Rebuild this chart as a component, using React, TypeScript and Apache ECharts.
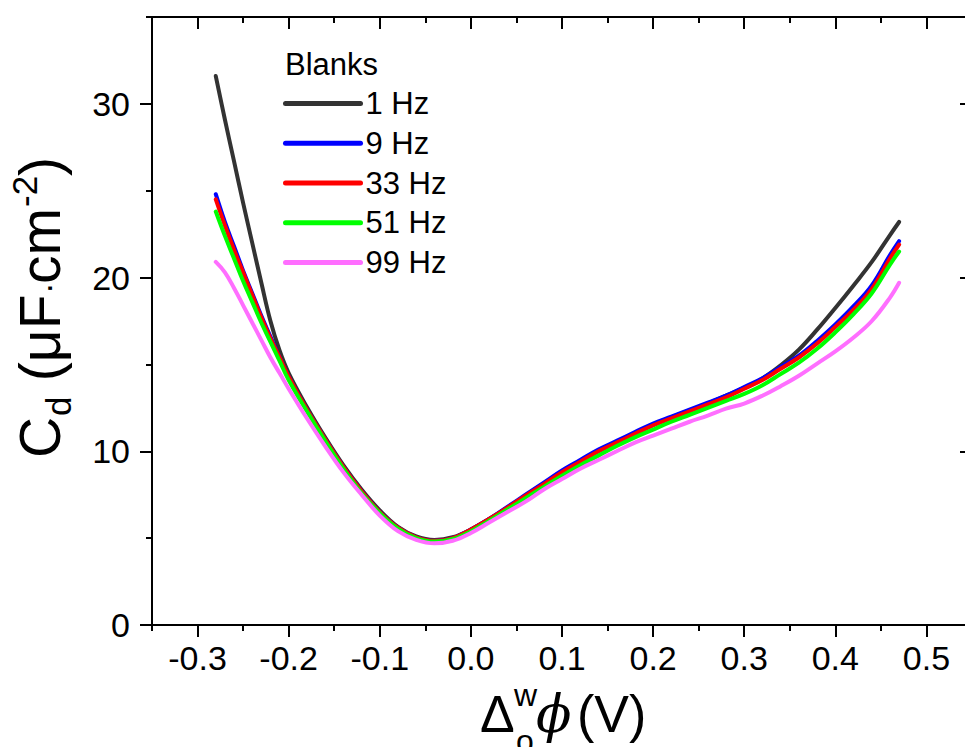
import React, { useEffect, useRef } from "react";
import * as echarts from "echarts";

// ---------- data ----------
const X_VALUES = [
  -0.28, -0.27, -0.26, -0.25, -0.24, -0.23, -0.22, -0.21, -0.2,
  -0.18, -0.16, -0.14, -0.12, -0.1, -0.08, -0.06, -0.04, -0.02, 0.0,
  0.02, 0.04, 0.06, 0.08, 0.1, 0.12, 0.14, 0.16, 0.18, 0.2, 0.22, 0.24,
  0.26, 0.28, 0.3, 0.32, 0.34, 0.36, 0.38, 0.4, 0.42, 0.44, 0.46, 0.47,
];

const HZ1 = [
  31.6, 29.1, 26.7, 24.3, 22.0, 19.7, 17.5, 15.8, 14.5,
  12.55, 10.8, 9.2, 7.8, 6.6, 5.65, 5.1, 4.9, 5.05, 5.5,
  6.1, 6.75, 7.45, 8.15, 8.8, 9.4, 10.0, 10.5, 11.0, 11.5, 11.95, 12.35,
  12.75, 13.2, 13.65, 14.2, 14.95, 15.85, 17.0, 18.25, 19.55, 20.9, 22.45, 23.2,
];

const HZ9 = [
  24.8, 23.2, 21.8, 20.4, 19.1, 17.8, 16.6, 15.4, 14.3,
  12.4, 10.7, 9.1, 7.7, 6.5, 5.6, 5.05, 4.85, 5.0, 5.5,
  6.1, 6.8, 7.5, 8.2, 8.9, 9.5, 10.1, 10.6, 11.1, 11.6, 12.0, 12.4,
  12.8, 13.2, 13.7, 14.2, 14.85, 15.5, 16.35, 17.3, 18.35, 19.55, 21.3, 22.1,
];

const HZ33 = [
  24.5, 23.0, 21.6, 20.3, 19.0, 17.7, 16.5, 15.4, 14.3,
  12.4, 10.7, 9.1, 7.7, 6.5, 5.6, 5.05, 4.85, 5.0, 5.5,
  6.1, 6.75, 7.45, 8.1, 8.8, 9.4, 10.0, 10.5, 11.0, 11.5, 11.9, 12.3,
  12.7, 13.1, 13.6, 14.1, 14.75, 15.4, 16.2, 17.15, 18.15, 19.35, 21.1, 21.9,
];

const HZ51 = [
  23.8, 22.4, 21.1, 19.8, 18.6, 17.4, 16.3, 15.2, 14.1,
  12.3, 10.6, 9.0, 7.6, 6.45, 5.55, 5.0, 4.8, 4.95, 5.4,
  6.0, 6.65, 7.3, 7.95, 8.6, 9.2, 9.75, 10.3, 10.8, 11.25, 11.7, 12.1,
  12.5, 12.9, 13.3, 13.8, 14.45, 15.1, 15.9, 16.85, 17.9, 19.1, 20.75, 21.5,
];

const HZ99 = [
  20.9, 20.3, 19.4, 18.4, 17.4, 16.4, 15.4, 14.5, 13.6,
  11.9, 10.3, 8.8, 7.5, 6.3, 5.4, 4.9, 4.7, 4.85, 5.3,
  5.9, 6.5, 7.1, 7.8, 8.4, 9.0, 9.5, 10.0, 10.5, 10.9, 11.3, 11.7,
  12.05, 12.45, 12.75, 13.2, 13.75, 14.35, 15.05, 15.75, 16.55, 17.5, 18.85, 19.7,
];

const SERIES_NAMES = ["1 Hz", "9 Hz", "33 Hz", "51 Hz", "99 Hz"];
const SERIES_VALUES = [HZ1, HZ9, HZ33, HZ51, HZ99];
const SERIES_COLORS = ["#333333", "#0000ff", "#ff0000", "#00ff00", "#ff6eff"];

const X_MAJOR = [-0.3, -0.2, -0.1, 0.0, 0.1, 0.2, 0.3, 0.4, 0.5];
const Y_MAJOR = [0, 10, 20, 30];

const FONT = "'Liberation Sans', Arial, sans-serif";

export default function App() {
  const ref = useRef<HTMLDivElement>(null);

  useEffect(() => {
    if (!ref.current) return;
    const chart = echarts.init(ref.current, undefined, { renderer: "svg" });

    const axisLineStyle = { color: "#000", width: 2 };
    const tickStyle = { color: "#000", width: 2 };

    const xBase = {
      type: "value" as const,
      min: -0.35,
      max: 0.55,
      splitLine: { show: false },
    };
    const yBase = {
      type: "value" as const,
      min: 0,
      max: 35,
      splitLine: { show: false },
    };

    const xAxis = [
      {
        ...xBase,
        position: "bottom",
        axisLine: { show: true, onZero: false, lineStyle: axisLineStyle },
        axisTick: { show: true, customValues: X_MAJOR, length: 12, lineStyle: tickStyle },
        axisLabel: {
          customValues: X_MAJOR,
          formatter: (v: number) => v.toFixed(1),
          fontSize: 34,
          color: "#000",
          fontFamily: FONT,
          margin: 16,
        },
      },
      {
        ...xBase,
        interval: 0.05,
        position: "bottom",
        axisLine: { show: false, onZero: false },
        axisTick: { show: true, length: 6, lineStyle: tickStyle },
        axisLabel: { show: false },
      },
      {
        ...xBase,
        position: "top",
        axisLine: { show: true, onZero: false, lineStyle: axisLineStyle },
        axisTick: { show: true, inside: true, customValues: X_MAJOR, length: 12, lineStyle: tickStyle },
        axisLabel: { show: false },
      },
      {
        ...xBase,
        interval: 0.05,
        position: "top",
        axisLine: { show: false, onZero: false },
        axisTick: { show: true, inside: true, length: 6, lineStyle: tickStyle },
        axisLabel: { show: false },
      },
    ];

    const yAxis = [
      {
        ...yBase,
        position: "left",
        axisLine: { show: true, onZero: false, lineStyle: axisLineStyle },
        axisTick: { show: true, customValues: Y_MAJOR, length: 12, lineStyle: tickStyle },
        axisLabel: {
          customValues: Y_MAJOR,
          fontSize: 34,
          color: "#000",
          fontFamily: FONT,
          margin: 22,
        },
      },
      {
        ...yBase,
        interval: 5,
        position: "left",
        axisLine: { show: false, onZero: false },
        axisTick: { show: true, length: 6, lineStyle: tickStyle },
        axisLabel: { show: false },
      },
      {
        ...yBase,
        position: "right",
        axisLine: { show: true, onZero: false, lineStyle: axisLineStyle },
        axisTick: { show: true, inside: true, customValues: Y_MAJOR, length: 12, lineStyle: tickStyle },
        axisLabel: { show: false },
      },
      {
        ...yBase,
        interval: 5,
        position: "right",
        axisLine: { show: false, onZero: false },
        axisTick: { show: true, inside: true, length: 6, lineStyle: tickStyle },
        axisLabel: { show: false },
      },
    ];

    const series = SERIES_NAMES.map((name, i) => ({
      name,
      type: "line",
      xAxisIndex: 0,
      yAxisIndex: 0,
      data: X_VALUES.map((x, j) => [x, SERIES_VALUES[i][j]]),
      showSymbol: false,
      symbol: "none",
      smooth: 0.4,
      lineStyle: { color: SERIES_COLORS[i], width: 4, cap: "round", join: "round" },
      itemStyle: { color: SERIES_COLORS[i] },
      z: 2 + i,
    }));

    // text helper: base is the baseline y (local coords)
    const txt = (x: number, base: number, text: string, fs: number, extra: any = {}) => ({
      type: "text",
      x,
      y: base - 0.35 * fs,
      style: { text, fontSize: fs, fontFamily: FONT, fill: "#000", verticalAlign: "middle", ...extra },
    });

    // y-axis title pieces (text reads bottom-to-top)
    const YT = 57;
    const YS = 35;
    const yTitle = {
      type: "group",
      x: 60,
      y: 458,
      rotation: Math.PI / 2,
      children: [
        txt(0, 0, "C", YT),
        txt(42, 11, "d", YS),
        txt(61, 0, " (μF", YT),
        txt(164, 0, "·", YS),
        txt(174, 0, "cm", YT),
        txt(251, -23, "-2", YS),
        txt(282, 0, ")", YT),
      ],
    };

    const XT = 52;
    const XS = 32;
    const XB = 732; // baseline of x-axis title
    const xTitle = {
      type: "group",
      children: [
        txt(480, XB, "Δ", XT),
        txt(514, 706, "w", XS),
        txt(516, 752, "o", XS),
        txt(536, XB, "ϕ", XT, { fontStyle: "italic", fontFamily: "'DejaVu Serif', serif" }),
        txt(577, XB, "(V)", XT),
      ],
    };

    const legendTitle = txt(285, 75, "Blanks", 31);

    chart.setOption({
      animation: false,
      backgroundColor: "#ffffff",
      grid: { left: 152, right: -7, top: 17, bottom: 122, containLabel: false, outerBoundsMode: "none" },
      xAxis,
      yAxis,
      legend: {
        orient: "vertical",
        left: 283,
        top: 88,
        padding: 0,
        itemWidth: 75,
        itemHeight: 2,
        itemGap: 8.75,
        data: SERIES_NAMES,
        itemStyle: { opacity: 0 },
        lineStyle: { width: 5, cap: "round" },
        textStyle: { fontSize: 31, lineHeight: 31, color: "#000", fontFamily: FONT },
        selectedMode: false,
      },
      series,
      graphic: [yTitle, xTitle, legendTitle],
    });

    return () => chart.dispose();
  }, []);

  return (
    <div
      ref={ref}
      style={{ position: "fixed", left: 0, top: 0, width: 965, height: 747, background: "#fff" }}
    />
  );
}
